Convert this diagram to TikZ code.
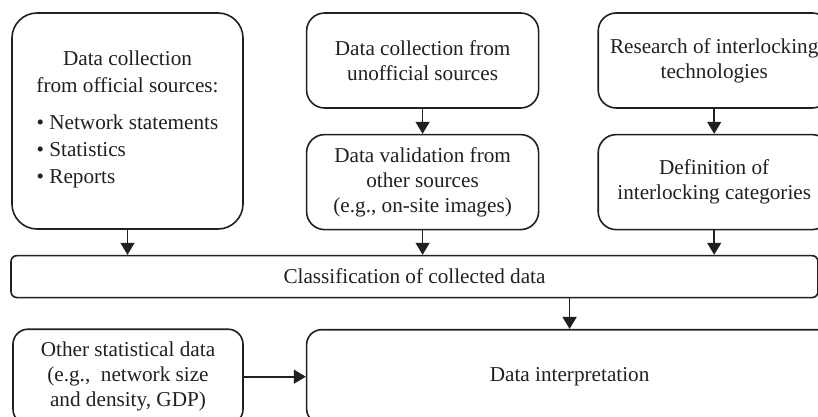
\documentclass[tikz,border=0pt]{standalone}
\usepackage{fontspec}
\setmainfont{Liberation Serif}
\usepackage{tikz}
\usetikzlibrary{arrows.meta,positioning}
\definecolor{ink}{RGB}{35,31,32}

\begin{document}
\begin{tikzpicture}[x=1pt,y=1pt,>={Triangle[width=14pt,length=12pt]},line width=1.6pt,
    box/.style={draw=ink,text=ink,rounded corners=18pt,align=center,inner sep=0pt,
      minimum width=232pt,minimum height=95pt,font=\fontsize{21.2}{25}\selectfont},
    wide/.style={box,rounded corners=6pt,minimum width=807pt,minimum height=42pt},
    low/.style={box,rounded corners=15pt,minimum height=95pt},
    every edge/.append style={draw=ink}]
  \useasboundingbox (0,0) rectangle (818,416);
  \clip (0,0) rectangle (818,416);

  \node[box,rounded corners=25pt,minimum width=231pt,minimum height=216pt,
    font=\fontsize{21.2}{26.7}\selectfont] (off) at (127.5,295)
    {Data collection\\from official sources:\\[11pt]
     \begin{tabular}[t]{@{}l@{}}\textbullet\ Network statements\\
     \textbullet\ Statistics\\ \textbullet\ Reports\end{tabular}};
  \node[box] (unoff) [below right=0pt and 62pt of off.north east] {Data collection from\\unofficial sources};
  \node[box] (valid) [below=25pt of unoff] {Data validation from\\other sources\\(e.g., on-site images)};
  \node[box] (research) [right=58pt of unoff] {Research of interlocking\\technologies};
  \node[box] (categ) [below=25pt of research] {Definition of\\interlocking categories};
  \node[wide] (class) [below right=25pt and -1pt of off.south west] {Classification of collected data};
  \node[low,minimum width=230pt] (other) [below right=30pt and 2pt of class.south west]
    {Other statistical data\\(e.g.,~ network size\\and density, GDP)};
  \node[low,minimum width=526pt,minimum height=94pt] (interp) [right=62pt of other] {Data interpretation};

  \path[->]
    (off) edge (off.south |- class.north)
    (unoff) edge (valid)
    (valid) edge (valid.south |- class.north)
    (research) edge (categ)
    (categ) edge (categ.south |- class.north)
    (interp.north |- class.south) edge (interp)
    (other) edge (interp);
\end{tikzpicture}
\end{document}
